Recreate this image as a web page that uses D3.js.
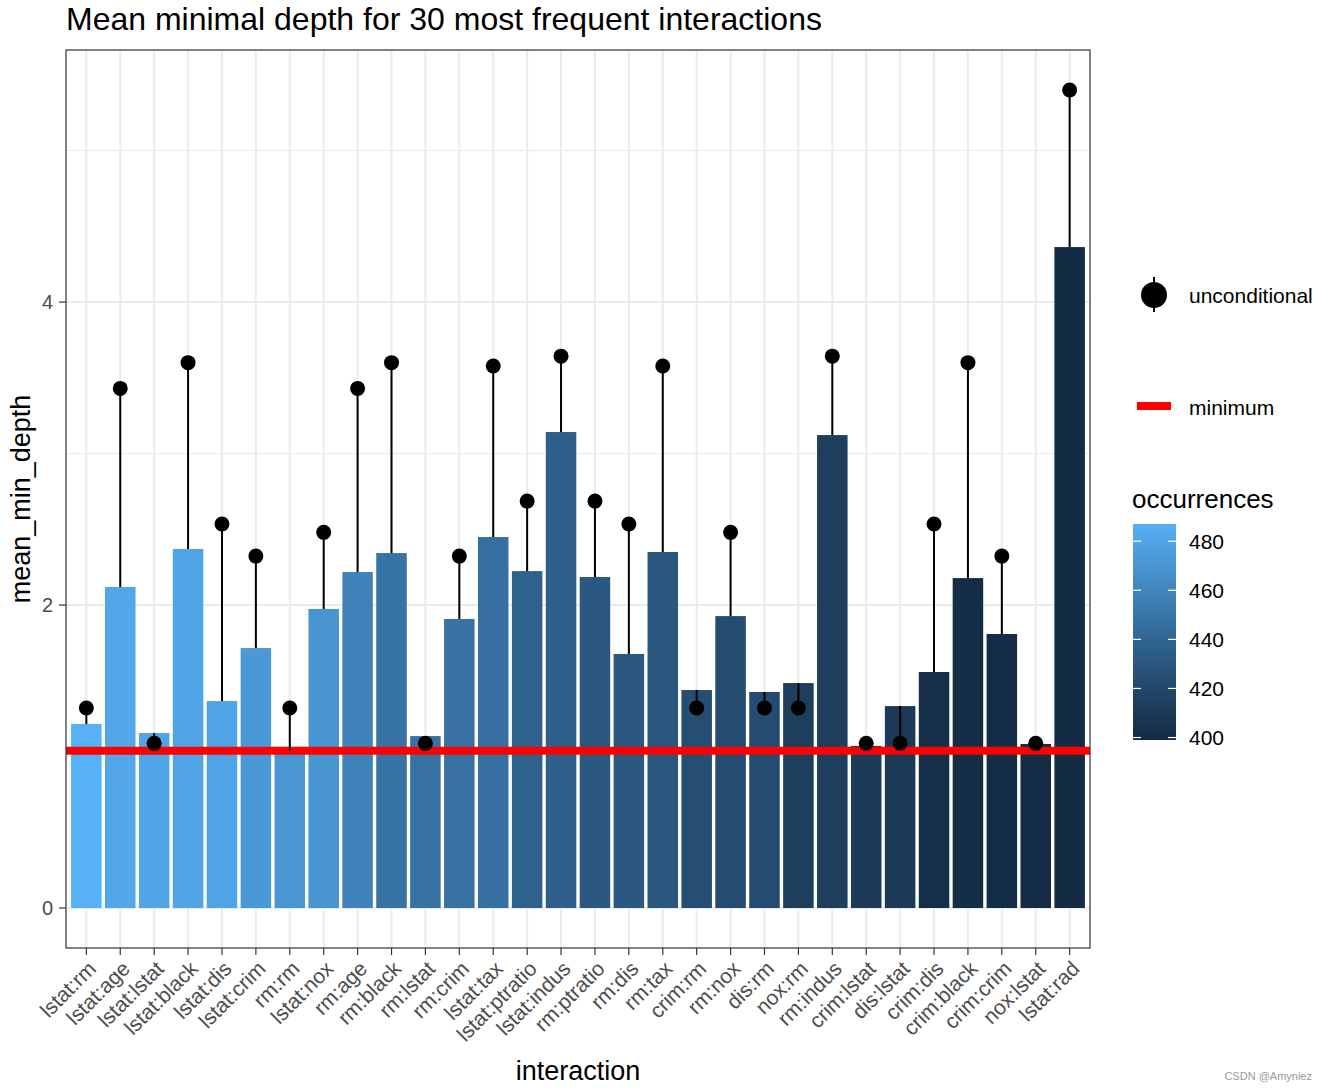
<!DOCTYPE html>
<html>
<head>
<meta charset="utf-8">
<script src="https://cdn.jsdelivr.net/npm/d3@7"></script>
<style>
  html, body { margin: 0; padding: 0; background: #fff; }
  svg { display: block; font-family: "Liberation Sans", Arial, sans-serif; }
</style>
</head>
<body>
<svg id="chart" width="1328" height="1092"></svg>
<script>
const interactions = ["lstat:rm","lstat:age","lstat:lstat","lstat:black","lstat:dis","lstat:crim","rm:rm","lstat:nox","rm:age","rm:black","rm:lstat","rm:crim","lstat:tax","lstat:ptratio","lstat:indus","rm:ptratio","rm:dis","rm:tax","crim:rm","rm:nox","dis:rm","nox:rm","rm:indus","crim:lstat","dis:lstat","crim:dis","crim:black","crim:crim","nox:lstat","lstat:rad"];
const meanMinDepth = [1.215,2.119,1.155,2.370,1.366,1.716,1.040,1.974,2.218,2.343,1.135,1.908,2.449,2.224,3.142,2.185,1.677,2.350,1.439,1.927,1.426,1.485,3.122,1.070,1.333,1.558,2.178,1.809,1.083,4.363];
const uncondMinDepth = [1.320,3.430,1.087,3.600,2.535,2.323,1.320,2.480,3.430,3.600,1.087,2.323,3.578,2.686,3.643,2.686,2.535,3.578,1.320,2.480,1.320,1.320,3.643,1.087,1.087,2.535,3.600,2.323,1.087,5.400];
const occurrences = [487,481,480,480,479,472,471,470,459,449,448,448,447,437,436,431,431,430,424,423,423,413,413,411,410,402,401,401,400,399];
const minimumDepth = 1.038;
const yTicks = [0,2,4];
const yMinorTicks = [1,3,5];
const legendTicks = [400,420,440,460,480];
const titleText = "Mean minimal depth for 30 most frequent interactions";
const xTitle = "interaction";
const yTitle = "mean_min_depth";
const legendTitle = "occurrences";

const svg = d3.select("#chart");
const P = {left: 66, right: 1090, top: 50, bottom: 948};

// ggplot: discrete expansion 0.6, bar width 0.9
const unit = (P.right - P.left) / (interactions.length + 0.2);
const x = d3.scalePoint().domain(interactions)
  .range([P.left + 0.6 * unit, P.right - 0.6 * unit]);
const xc = d => x(d);
const barW = 0.9 * unit;

const y = d3.scaleLinear().domain([-0.264, 5.664]).range([P.bottom, P.top]);
const color = d3.scaleLinear().domain([399, 487]).range(["#132B43", "#56B1F7"]).interpolate(d3.interpolateLab);

// panel background grid
const g = svg.append("g");
g.selectAll("line.minor").data(yMinorTicks).join("line")
  .attr("x1", P.left).attr("x2", P.right)
  .attr("y1", d => y(d)).attr("y2", d => y(d))
  .attr("stroke", "#EBEBEB").attr("stroke-width", 1);
g.selectAll("line.major").data(yTicks).join("line")
  .attr("x1", P.left).attr("x2", P.right)
  .attr("y1", d => y(d)).attr("y2", d => y(d))
  .attr("stroke", "#EBEBEB").attr("stroke-width", 2);
g.selectAll("line.vx").data(interactions).join("line")
  .attr("x1", d => xc(d)).attr("x2", d => xc(d))
  .attr("y1", P.top).attr("y2", P.bottom)
  .attr("stroke", "#EBEBEB").attr("stroke-width", 2);

// bars
svg.append("g").selectAll("rect").data(interactions).join("rect")
  .attr("x", d => xc(d) - barW / 2)
  .attr("width", barW)
  .attr("y", (d, i) => y(meanMinDepth[i]))
  .attr("height", (d, i) => y(0) - y(meanMinDepth[i]))
  .attr("fill", (d, i) => color(occurrences[i]));

// minimum line
svg.append("line")
  .attr("x1", P.left).attr("x2", P.right)
  .attr("y1", y(minimumDepth)).attr("y2", y(minimumDepth))
  .attr("stroke", "#FF0000").attr("stroke-width", 8);

// point ranges
const pr = svg.append("g");
pr.selectAll("line").data(interactions).join("line")
  .attr("x1", d => xc(d)).attr("x2", d => xc(d))
  .attr("y1", (d, i) => y(meanMinDepth[i]))
  .attr("y2", (d, i) => y(uncondMinDepth[i]))
  .attr("stroke", "#000").attr("stroke-width", 2);
pr.selectAll("circle").data(interactions).join("circle")
  .attr("cx", d => xc(d))
  .attr("cy", (d, i) => y(uncondMinDepth[i]))
  .attr("r", 7.5).attr("fill", "#000");

// panel border
svg.append("rect").attr("x", P.left).attr("y", P.top)
  .attr("width", P.right - P.left).attr("height", P.bottom - P.top)
  .attr("fill", "none").attr("stroke", "#333333").attr("stroke-width", 1.2);

// y axis
const ya = svg.append("g");
ya.selectAll("line").data(yTicks).join("line")
  .attr("x1", P.left - 7).attr("x2", P.left)
  .attr("y1", d => y(d)).attr("y2", d => y(d))
  .attr("stroke", "#333333").attr("stroke-width", 1.2);
ya.selectAll("text").data(yTicks).join("text")
  .attr("x", P.left - 13).attr("y", d => y(d))
  .attr("dy", "0.36em").attr("text-anchor", "end")
  .attr("font-size", 20).attr("fill", "#4D4D4D")
  .text(d => d);

// x axis
const xa = svg.append("g");
xa.selectAll("line").data(interactions).join("line")
  .attr("x1", d => xc(d)).attr("x2", d => xc(d))
  .attr("y1", P.bottom).attr("y2", P.bottom + 7)
  .attr("stroke", "#333333").attr("stroke-width", 1.2);
xa.selectAll("text").data(interactions).join("text")
  .attr("transform", d => `translate(${xc(d) + 11},${P.bottom + 22}) rotate(-45)`)
  .attr("text-anchor", "end")
  .attr("font-size", 21).attr("fill", "#4D4D4D")
  .text(d => d);

// titles
svg.append("text").attr("x", P.left).attr("y", 30)
  .attr("font-size", 32).attr("fill", "#000").text(titleText);
svg.append("text").attr("x", (P.left + P.right) / 2).attr("y", 1080)
  .attr("text-anchor", "middle").attr("font-size", 27).attr("fill", "#000").text(xTitle);
svg.append("text").attr("transform", `translate(30,${(P.top + P.bottom) / 2}) rotate(-90)`)
  .attr("text-anchor", "middle").attr("font-size", 27).attr("fill", "#000").text(yTitle);

// legend: unconditional
const lg = svg.append("g");
lg.append("line").attr("x1", 1154).attr("x2", 1154).attr("y1", 277).attr("y2", 312)
  .attr("stroke", "#000").attr("stroke-width", 2);
lg.append("circle").attr("cx", 1154).attr("cy", 295).attr("r", 13).attr("fill", "#000");
lg.append("text").attr("x", 1189).attr("y", 303).attr("font-size", 21).attr("fill", "#000").text("unconditional");
// legend: minimum
lg.append("line").attr("x1", 1137).attr("x2", 1171).attr("y1", 406).attr("y2", 406)
  .attr("stroke", "#FF0000").attr("stroke-width", 8);
lg.append("text").attr("x", 1189).attr("y", 415).attr("font-size", 21).attr("fill", "#000").text("minimum");

// legend: colourbar
lg.append("text").attr("x", 1132).attr("y", 508).attr("font-size", 26).attr("fill", "#000").text(legendTitle);
const defs = svg.append("defs");
const grad = defs.append("linearGradient").attr("id", "cbar")
  .attr("x1", 0).attr("x2", 0).attr("y1", 1).attr("y2", 0);
d3.range(0, 1.0001, 0.1).forEach(t => {
  grad.append("stop").attr("offset", t).attr("stop-color", color(399 + t * (487 - 399)));
});
const ly = d3.scaleLinear().domain([399, 487]).range([740, 524]);
const cbX = 1133, cbW = 43;
lg.append("rect").attr("x", cbX).attr("y", ly(487)).attr("width", cbW)
  .attr("height", ly(399) - ly(487)).attr("fill", "url(#cbar)");
legendTicks.forEach(v => {
  lg.append("line").attr("x1", cbX).attr("x2", cbX + 8).attr("y1", ly(v)).attr("y2", ly(v))
    .attr("stroke", "#fff").attr("stroke-width", 1.2);
  lg.append("line").attr("x1", cbX + cbW - 8).attr("x2", cbX + cbW).attr("y1", ly(v)).attr("y2", ly(v))
    .attr("stroke", "#fff").attr("stroke-width", 1.2);
  lg.append("text").attr("x", 1189).attr("y", ly(v)).attr("dy", "0.36em")
    .attr("font-size", 21).attr("fill", "#000").text(v);
});

// watermark
svg.append("text").attr("x", 1312).attr("y", 1080).attr("text-anchor", "end")
  .attr("font-size", 11).attr("fill", "#999").text("CSDN @Amyniez");
</script>
</body>
</html>
